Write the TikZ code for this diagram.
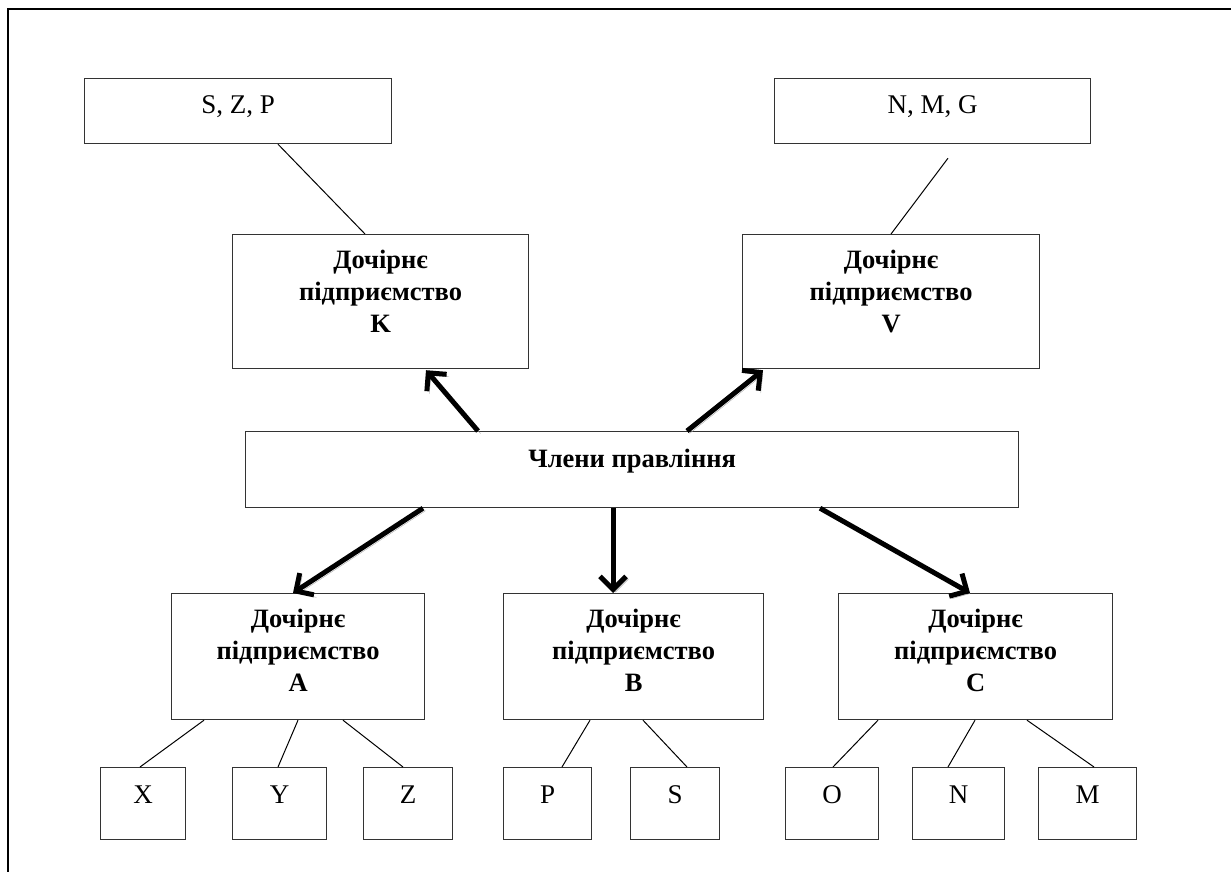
\documentclass[tikz,border=0pt]{standalone}
\usepackage{fontspec}
\setmainfont{Liberation Serif}
\usetikzlibrary{arrows.meta}

\newcommand{\firm}[1]{\begin{tabular}[t]{@{}c@{}}Дочірнє\\підприємство\\#1\end{tabular}}

\tikzset{
  box/.style={draw=black!80, line width=1.2pt, inner sep=0pt, anchor=north west},
  firmbox/.style={box, font=\fontsize{26.5}{32}\selectfont\bfseries, text height=34pt},
  leafbox/.style={box, font=\fontsize{27}{32}\selectfont, text height=36pt, text depth=36pt},
  link/.style={line width=1pt},
  order/.style={line width=5pt, -{Straight Barb[length=13pt,width=26pt]},
    preaction={draw=black!35, transform canvas={shift={(2.5pt,-2.5pt)}}}}
}

\begin{document}
\begin{tikzpicture}[x=1pt, y=-1pt]
    \useasboundingbox (0,0) rectangle (1231,872);
    % frame
    \draw[line width=2pt] (1231,9) -- (8,9) -- (8,872);

    % upper groups
    \node[box, font=\fontsize{27}{32}\selectfont, text height=35pt, text depth=30pt,
      minimum width=307pt] (grpk) at (84,78) {S, Z, P};
    \node[box, font=\fontsize{27}{32}\selectfont, text height=35pt, text depth=30pt,
      minimum width=316pt] (grpv) at (774,78) {N, M, G};

    % subsidiaries
    \node[firmbox, text depth=100pt, minimum width=296pt] (subk) at (232,234) {\firm{K}};
    \node[firmbox, text depth=100pt, minimum width=297pt] (subv) at (742,234) {\firm{V}};
    \node[box, font=\fontsize{26.5}{32}\selectfont\bfseries, text height=36pt, text depth=40pt,
      minimum width=773pt] (board) at (245,431) {Члени правління};
    \node[firmbox, text depth=92pt, minimum width=253pt] (suba) at (171,593) {\firm{A}};
    \node[firmbox, text depth=92pt, minimum width=260pt] (subb) at (503,593) {\firm{B}};
    \node[firmbox, text depth=92pt, minimum width=274pt] (subc) at (838,593) {\firm{C}};

    % leaves
    \node[leafbox, minimum width=85pt] (leafx) at (100,767) {X};
    \node[leafbox, minimum width=94pt] (leafy) at (232,767) {Y};
    \node[leafbox, minimum width=89pt] (leafz) at (363,767) {Z};
    \node[leafbox, minimum width=88pt] (leafp) at (503,767) {P};
    \node[leafbox, minimum width=89pt] (leafs) at (630,767) {S};
    \node[leafbox, minimum width=93pt] (leafo) at (785,767) {O};
    \node[leafbox, minimum width=92pt] (leafn) at (912,767) {N};
    \node[leafbox, minimum width=98pt] (leafm) at (1038,767) {M};

    % thin connectors
    \draw[link] ([xshift=194pt]grpk.south west) -- ([xshift=133pt]subk.north west);
    \draw[link] ([xshift=174pt, yshift=-14pt]grpv.south west) -- ([xshift=149pt]subv.north west);
    \draw[link] ([xshift=33pt]suba.south west) -- ([xshift=40pt]leafx.north west);
    \draw[link] ([xshift=127pt]suba.south west) -- ([xshift=46pt]leafy.north west);
    \draw[link] ([xshift=172pt]suba.south west) -- ([xshift=40pt]leafz.north west);
    \draw[link] ([xshift=87pt]subb.south west) -- ([xshift=59pt]leafp.north west);
    \draw[link] ([xshift=140pt]subb.south west) -- ([xshift=57pt]leafs.north west);
    \draw[link] ([xshift=40pt]subc.south west) -- ([xshift=48pt]leafo.north west);
    \draw[link] ([xshift=137pt]subc.south west) -- ([xshift=36pt]leafn.north west);
    \draw[link] ([xshift=189pt]subc.south west) -- ([xshift=56pt]leafm.north west);

    % thick arrows from the board
    \draw[order] ([xshift=233pt]board.north west) -- ([xshift=194pt, yshift=-1pt]subk.south west);
    \draw[order] ([xshift=442pt]board.north west) -- ([xshift=21pt, yshift=-1pt]subv.south west);
    \draw[order] ([xshift=178pt]board.south west) -- ([xshift=122pt]suba.north west);
    \draw[order] ([xshift=368pt]board.south west) -- ([xshift=110pt]subb.north west);
    \draw[order] ([xshift=575pt]board.south west) -- ([xshift=132pt]subc.north west);
\end{tikzpicture}
\end{document}
